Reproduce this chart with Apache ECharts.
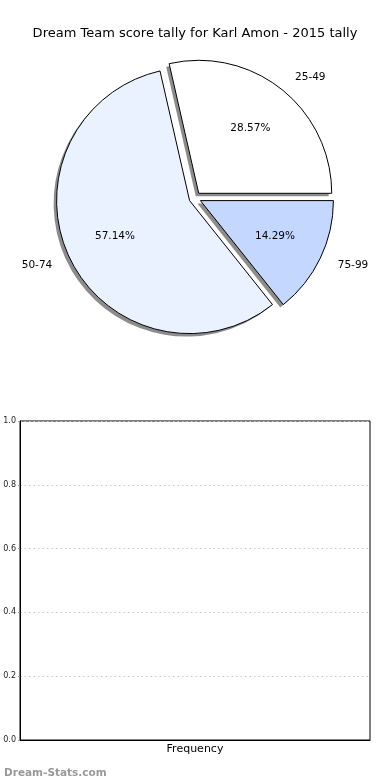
<!DOCTYPE html>
<html><head><meta charset="utf-8">
<script src="https://cdn.jsdelivr.net/npm/echarts@6/dist/echarts.min.js"></script>
<style>html,body{margin:0;padding:0;background:#fff}#c{width:390px;height:780px}</style>
</head><body><div id="c"></div>
<script>
const categories = ['25-49', '50-74', '75-99'];
const shares = [28.57, 57.14, 14.29];
const sliceColors = ['#ffffff', '#eaf1ff', '#c4d7ff'];
const yTicks = [0, 0.2, 0.4, 0.6, 0.8, 1.0];
const freqValues = [];

const R = 133;
const center = [195, 198];
const chart = echarts.init(document.getElementById('c'));
const mkData = () => categories.map((c, i) => ({
  name: c, value: shares[i], selected: true,
  itemStyle: { color: sliceColors[i] }
}));
const pieBase = {
  type: 'pie', center: center, startAngle: 0, clockwise: false,
  selectedMode: 'multiple', selectedOffset: 6, avoidLabelOverlap: false,
  emphasis: { disabled: true }
};

chart.setOption({
  animation: false,
  title: [
    { text: 'Dream Team score tally for Karl Amon - 2015 tally', left: 'center', top: 22,
      textStyle: { fontFamily: 'DejaVu Sans', fontSize: 13, fontWeight: 'normal', color: '#000' } },
    { text: 'Dream-Stats.com', left: -1, top: 763,
      textStyle: { fontFamily: 'DejaVu Sans', fontSize: 10.5, fontWeight: 'bold', color: '#999' } }
  ],
  grid: { left: 20, right: 20, top: 421, bottom: 40, show: true, borderColor: '#000', borderWidth: 1 },
  xAxis: { type: 'value', min: 0, max: 1, name: 'Frequency', nameLocation: 'middle', nameGap: 4,
    nameTextStyle: { fontFamily: 'DejaVu Sans', fontSize: 11, color: '#000', verticalAlign: 'top' },
    axisLabel: { show: false }, axisTick: { show: false }, splitLine: { show: false },
    axisLine: { show: true, lineStyle: { color: '#000' } } },
  yAxis: { type: 'value', min: 0, max: 1, interval: 0.2,
    axisLabel: { fontFamily: 'DejaVu Sans', fontSize: 8, color: '#222', margin: 4,
      formatter: v => yTicks.includes(Math.round(v * 10) / 10) ? v.toFixed(1) : '' },
    axisTick: { show: true, length: 2, lineStyle: { color: '#999' } },
    axisLine: { show: true, lineStyle: { color: '#000' } },
    splitLine: { show: true, lineStyle: { color: '#c8c8c8', type: [1.5, 3], width: 1 } } },
  series: [
    { type: 'bar', name: 'Frequency', data: freqValues },
    Object.assign({}, pieBase, { radius: R, silent: true,
      itemStyle: { borderWidth: 0, shadowColor: 'rgba(0,0,0,0.45)', shadowOffsetX: -3, shadowOffsetY: 3, shadowBlur: 0 },
      select: { itemStyle: { borderWidth: 0 } },
      label: { show: false }, labelLine: { show: false },
      data: mkData() }),
    Object.assign({}, pieBase, { radius: R,
      itemStyle: { borderColor: '#000', borderWidth: 1 },
      select: { itemStyle: { borderColor: '#000', borderWidth: 1 } },
      label: { show: true, position: 'outside', formatter: '{b}', distanceToLabelLine: 0,
        fontFamily: 'DejaVu Sans', fontSize: 10.5, color: '#000' },
      labelLine: { show: false, length: 15, length2: 4 },
      data: mkData() }),
    Object.assign({}, pieBase, { radius: R * 1.2, silent: true,
      select: { itemStyle: { color: 'rgba(0,0,0,0)', borderWidth: 0 } },
      itemStyle: { color: 'rgba(0,0,0,0)', borderWidth: 0 },
      label: { show: true, position: 'inside', formatter: p => p.value.toFixed(2) + '%',
        fontFamily: 'DejaVu Sans', fontSize: 10.5, color: '#000' },
      labelLine: { show: false },
      data: categories.map((c, i) => ({ name: c, value: shares[i], selected: true })) })
  ]
});
</script></body></html>
